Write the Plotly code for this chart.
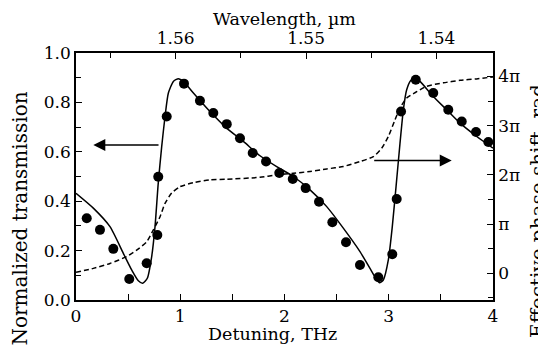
import plotly.graph_objects as go

# Measured transmission (dots)
dots_x = [0.103, 0.230, 0.358, 0.511, 0.678, 0.780, 0.789, 0.870, 1.036, 1.189, 1.317, 1.446,
          1.573, 1.695, 1.823, 1.950, 2.079, 2.203, 2.331, 2.459, 2.590, 2.724, 2.900, 3.034,
          3.076, 3.118, 3.259, 3.427, 3.571, 3.700, 3.837, 3.955]
dots_y = [0.331, 0.284, 0.207, 0.085, 0.149, 0.263, 0.499, 0.743, 0.876, 0.807, 0.757, 0.712,
          0.655, 0.595, 0.561, 0.514, 0.490, 0.453, 0.398, 0.315, 0.234, 0.142, 0.092, 0.185,
          0.409, 0.763, 0.892, 0.838, 0.770, 0.723, 0.680, 0.640]

# Calculated transmission (solid)
solid_x = [0, 0.166, 0.326, 0.454, 0.534, 0.598, 0.640, 0.684, 0.726, 0.758, 0.789, 0.822,
           0.854, 0.886, 0.934, 0.982, 1.030, 1.126, 1.285, 1.445, 1.605, 1.765, 1.925, 2.085,
           2.245, 2.405, 2.564, 2.724, 2.820, 2.868, 2.910, 2.948, 2.996, 3.034, 3.070, 3.108,
           3.140, 3.172, 3.211, 3.252, 3.300, 3.427, 3.556, 3.684, 3.844, 4.0]
solid_y = [0.432, 0.372, 0.297, 0.189, 0.122, 0.078, 0.068, 0.088, 0.176, 0.297, 0.473, 0.621,
           0.743, 0.838, 0.885, 0.896, 0.885, 0.838, 0.763, 0.696, 0.642, 0.584, 0.540, 0.500,
           0.446, 0.378, 0.291, 0.196, 0.128, 0.094, 0.070, 0.081, 0.162, 0.297, 0.459, 0.635,
           0.770, 0.851, 0.889, 0.899, 0.885, 0.824, 0.770, 0.716, 0.662, 0.615]

# Effective phase shift (dashed), in units of pi
phase_x = [0, 0.166, 0.326, 0.486, 0.582, 0.678, 0.742, 0.806, 0.854, 0.918, 0.998, 1.125,
           1.285, 1.445, 1.765, 1.925, 2.085, 2.245, 2.405, 2.564, 2.724, 2.852, 2.932, 2.996,
           3.060, 3.108, 3.172, 3.268, 3.364, 3.524, 3.684, 3.844, 4.0]
phase_y = [0.02, 0.10, 0.20, 0.34, 0.47, 0.64, 0.88, 1.15, 1.42, 1.63, 1.76, 1.84,
           1.90, 1.91, 1.95, 2.00, 2.03, 2.07, 2.12, 2.17, 2.27, 2.37, 2.54, 2.78,
           3.12, 3.36, 3.56, 3.69, 3.80, 3.87, 3.92, 3.95, 3.99]

phase_tickvals = [0, 1, 2, 3, 4]
phase_ticktext = ["0", "π", "2π", "3π", "4π"]
wl_range = [1.56765, 1.53566]

FONT = "DejaVu Serif"
BLACK = "black"

fig = go.Figure()
fig.add_trace(go.Scatter(x=phase_x, y=phase_y, mode="lines", yaxis="y2",
                         line=dict(color=BLACK, width=1.5, dash="5px,3px", shape="spline", smoothing=0.6),
                         showlegend=False))
fig.add_trace(go.Scatter(x=solid_x, y=solid_y, mode="lines",
                         line=dict(color=BLACK, width=1.5, shape="spline", smoothing=0.6),
                         showlegend=False))
fig.add_trace(go.Scatter(x=dots_x, y=dots_y, mode="markers",
                         marker=dict(color=BLACK, size=10), showlegend=False))
# invisible trace to activate top axis
fig.add_trace(go.Scatter(x=wl_range, y=[None, None], xaxis="x2", mode="lines", showlegend=False, hoverinfo="skip"))

tick = dict(ticks="inside", ticklen=6, tickwidth=1.2, tickcolor=BLACK, automargin=False,
            showline=True, linecolor=BLACK, linewidth=1.5, showgrid=False, zeroline=False,
            tickfont=dict(family=FONT, size=17, color=BLACK))

# the page body adds an 8px offset; margins compensate so the plot lands at 76..493 x 53..300
fig.update_layout(
    width=546, height=345,
    margin=dict(l=68, r=61, t=45, b=53, autoexpand=False),
    paper_bgcolor="white", plot_bgcolor="white",
    font=dict(family=FONT, color=BLACK),
    xaxis=dict(range=[0, 4], dtick=1, tick0=0,
               minor=dict(dtick=0.5, ticks="inside", ticklen=6, tickcolor=BLACK), **tick),
    xaxis2=dict(range=wl_range, overlaying="x", side="top", dtick=0.01, tick0=1.54, tickformat=".2f",
                minor=dict(dtick=0.005, ticks="inside", ticklen=5, tickcolor=BLACK), **tick),
    yaxis=dict(range=[0, 1], dtick=0.2, tick0=0, tickformat=".1f",
               minor=dict(dtick=0.1, ticks="inside", ticklen=5, tickcolor=BLACK), **tick),
    yaxis2=dict(range=[-0.543, 4.476], overlaying="y", side="right",
                tickvals=phase_tickvals, ticktext=phase_ticktext,
                minor=dict(dtick=0.5, ticks="inside", ticklen=5, tickcolor=BLACK), **tick),
)

ann_font = dict(family=FONT, size=17.5, color=BLACK)
side_font = dict(family=FONT, size=20, color=BLACK)
fig.add_annotation(text="Detuning, THz", xref="paper", yref="paper", x=0.472, y=-0.138,
                   xanchor="center", yanchor="middle", showarrow=False, font=ann_font)
fig.add_annotation(text="Wavelength, µm", xref="paper", yref="paper", x=0.501, y=1.138,
                   xanchor="center", yanchor="middle", showarrow=False, font=ann_font)
fig.add_annotation(text="Normalized transmission", xref="paper", yref="paper", x=-0.134, y=0.33,
                   xanchor="center", yanchor="middle", textangle=-90, showarrow=False, font=side_font)
fig.add_annotation(text="Effective phase shift, rad", xref="paper", yref="paper", x=1.074, y=0.36,
                   xanchor="left", yanchor="middle", textangle=-90, showarrow=False, font=side_font)

# arrows pointing to the relevant axes
fig.add_annotation(x=0.166, y=0.628, ax=0.806, ay=0.628, xref="x", yref="y", axref="x", ayref="y",
                   text="", showarrow=True, arrowhead=2, arrowsize=1.6, arrowwidth=1.5, arrowcolor=BLACK)
fig.add_annotation(x=3.604, y=0.565, ax=2.846, ay=0.565, xref="x", yref="y", axref="x", ayref="y",
                   text="", showarrow=True, arrowhead=2, arrowsize=1.6, arrowwidth=1.5, arrowcolor=BLACK)

fig.write_html("out.html")
